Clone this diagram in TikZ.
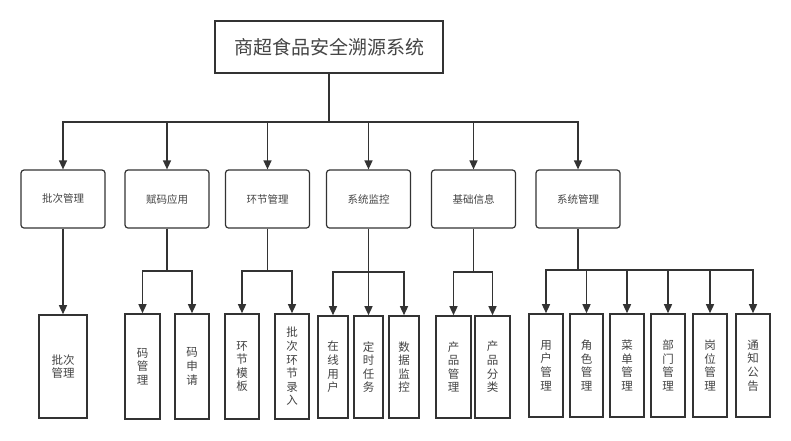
\documentclass[tikz,border=0pt]{standalone}
\usepackage{fontspec}
\setmainfont{Noto Sans CJK SC}
\usetikzlibrary{arrows.meta}
\definecolor{ln}{HTML}{333333}
\definecolor{tx}{HTML}{444444}
\begin{document}
\begin{tikzpicture}[x=1pt,y=-1pt,
  topbox/.style={draw=ln,line width=1.4pt,minimum width=228pt,minimum height=52pt,inner sep=0pt,text=tx,font=\fontsize{19}{22}\selectfont},
  midbox/.style={draw=ln,line width=1.2pt,rounded corners=3pt,minimum width=84pt,minimum height=58pt,inner sep=0pt,text=tx,font=\fontsize{10.5}{12}\selectfont},
  leaf/.style={draw=ln,line width=1.6pt,minimum height=103pt,inner sep=0pt,align=center,text=tx,font=\fontsize{11.5}{13.6}\selectfont},
  arr/.style={draw=ln,line width=1.4pt,-{Triangle[width=8pt,length=9pt]}},
  thick bus/.style={draw=ln,line width=2.6pt}
]
\useasboundingbox (0,0) rectangle (791,440);
\fill[white] (0,0) rectangle (791,440);

\node[topbox] (top) at (329,47) {商超食品安全溯源系统};

\node[midbox] (pc) at (63,199) {批次管理};
\node[midbox] (fm) at (167,199) {赋码应用};
\node[midbox] (hj) at (267.5,199) {环节管理};
\node[midbox] (jk) at (368.5,199) {系统监控};
\node[midbox] (jc) at (473.5,199) {基础信息};
\node[midbox] (gl) at (578,199) {系统管理};

\node[leaf,minimum width=48pt] (pc1) at (63,366.5) {批次\\管理};
\node[leaf,minimum width=35pt,minimum height=105pt] (fm1) at (142.5,366.5) {码\\管\\理};
\node[leaf,minimum width=34pt,minimum height=105pt] (fm2) at (192,366.5) {码\\申\\请};
\node[leaf,minimum width=34pt,minimum height=105pt] (hj1) at (242,366.5) {环\\节\\模\\板};
\node[leaf,minimum width=34pt,minimum height=105pt] (hj2) at (292,366.5) {批\\次\\环\\节\\录\\入};
\node[leaf,minimum width=30pt,minimum height=102pt] (jk1) at (333,367) {在\\线\\用\\户};
\node[leaf,minimum width=29pt,minimum height=102pt] (jk2) at (368.5,367) {定\\时\\任\\务};
\node[leaf,minimum width=30pt,minimum height=102pt] (jk3) at (404,367) {数\\据\\监\\控};
\node[leaf,minimum width=35pt,minimum height=102pt] (jc1) at (453.5,367) {产\\品\\管\\理};
\node[leaf,minimum width=35pt,minimum height=102pt] (jc2) at (492.5,367) {产\\品\\分\\类};
\node[leaf,minimum width=34pt] (gl1) at (546,365.5) {用\\户\\管\\理};
\node[leaf,minimum width=33pt] (gl2) at (586.5,365.5) {角\\色\\管\\理};
\node[leaf,minimum width=34pt] (gl3) at (627,365.5) {菜\\单\\管\\理};
\node[leaf,minimum width=34pt] (gl4) at (668,365.5) {部\\门\\管\\理};
\node[leaf,minimum width=34pt] (gl5) at (710,365.5) {岗\\位\\管\\理};
\node[leaf,minimum width=34pt] (gl6) at (753,365.5) {通\\知\\公\\告};

\coordinate (bTop) at (329,122);
\coordinate (bFm) at (167,271);
\coordinate (bHj) at (267.5,271);
\coordinate (bJk) at (368.5,272);
\coordinate (bJc) at (473.5,272);
\coordinate (bGl) at (578,270);

\foreach \c in {pc,fm,hj,jk,jc,gl}
  \draw[arr] (top.south) -- (bTop) -| (\c.north);

\draw[arr] (pc.south) -- (pc1.north);
\foreach \c in {fm1,fm2} \draw[arr] (fm.south) -- (bFm) -| (\c.north);
\foreach \c in {hj1,hj2} \draw[arr] (hj.south) -- (bHj) -| (\c.north);
\foreach \c in {jk1,jk2,jk3} \draw[arr] (jk.south) -- (bJk) -| (\c.north);
\foreach \c in {jc1,jc2} \draw[arr] (jc.south) -- (bJc) -| (\c.north);
\draw[thick bus] (gl.south) -- (bGl);
\foreach \c in {gl1,gl2,gl3,gl4,gl5,gl6} \draw[arr] (bGl) -| (\c.north);
\end{tikzpicture}
\end{document}
